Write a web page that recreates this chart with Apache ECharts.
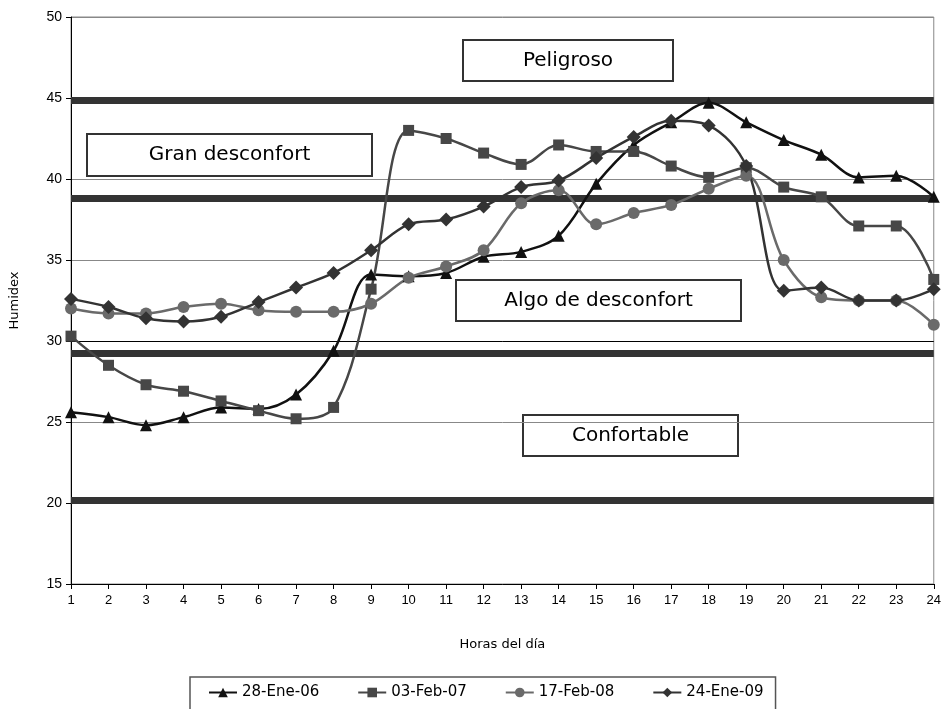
<!DOCTYPE html>
<html>
<head>
<meta charset="utf-8">
<script src="https://cdn.jsdelivr.net/npm/echarts@6/dist/echarts.min.js"></script>
<style>html,body{margin:0;padding:0;background:#fff;}#c{width:944px;height:709px;}</style>
</head>
<body>
<div id="c"></div>
<script>
var hours = ['1','2','3','4','5','6','7','8','9','10','11','12','13','14','15','16','17','18','19','20','21','22','23','24'];
var s2006 = [25.6,25.3,24.8,25.3,25.9,25.8,26.7,29.4,34.1,34.0,34.2,35.2,35.5,36.5,39.7,42.1,43.5,44.7,43.5,42.4,41.5,40.1,40.2,38.9];
var s2007 = [30.3,28.5,27.3,26.9,26.3,25.7,25.2,25.9,33.2,43.0,42.5,41.6,40.9,42.1,41.7,41.7,40.8,40.1,40.7,39.5,38.9,37.1,37.1,33.8];
var s2008 = [32.0,31.7,31.7,32.1,32.3,31.9,31.8,31.8,32.3,33.9,34.6,35.6,38.5,39.3,37.2,37.9,38.4,39.4,40.2,35.0,32.7,32.5,32.5,31.0];
var s2009 = [32.6,32.1,31.4,31.2,31.5,32.4,33.3,34.2,35.6,37.2,37.5,38.3,39.5,39.9,41.3,42.6,43.6,43.3,40.8,33.1,33.3,32.5,32.5,33.2];
var seriesNames = ['28-Ene-06','03-Feb-07','17-Feb-08','24-Ene-09'];
var thresholds = [44.85, 38.8, 29.25, 20.15];
var zoneLabels = ['Peligroso','Gran desconfort','Algo de desconfort','Confortable'];

var FONT = 'DejaVu Sans';
var chart = echarts.init(document.getElementById('c'));

function mkSeries(name, data, symbol, color, size) {
  return {
    name: name, type: 'line', data: data, smooth: 0.35,
    symbol: symbol, symbolSize: size, z: 5,
    lineStyle: { color: color, width: 2.5 },
    itemStyle: { color: color },
    emphasis: { disabled: true }
  };
}

function box(x, y, w, h, text) {
  return {
    type: 'group', left: x, top: y, z: 10,
    children: [
      { type: 'rect', shape: { x: 0, y: 0, width: w, height: h },
        style: { fill: '#fff', stroke: '#333', lineWidth: 2 } },
      { type: 'text', x: w / 2, y: h / 2,
        style: { text: text, font: '20px "' + FONT + '"', fill: '#000', align: 'center', verticalAlign: 'middle' } }
    ]
  };
}

var bandLines = thresholds.map(function (v) { return { yAxis: v }; });
bandLines.push({ yAxis: 30, lineStyle: { color: '#000', width: 1, type: 'solid' } });

chart.setOption({
  animation: false,
  backgroundColor: '#fff',
  grid: { left: 67, right: 10, top: 17, bottom: 125, show: true, borderColor: '#888', borderWidth: 1, containLabel: false },
  xAxis: {
    type: 'category', data: hours, boundaryGap: false,
    name: 'Horas del día', nameLocation: 'middle', nameGap: 54,
    nameTextStyle: { fontFamily: FONT, fontSize: 13, color: '#000' },
    axisLine: { lineStyle: { color: '#000', width: 1 } },
    axisTick: { show: true, length: 5, lineStyle: { color: '#000' }, alignWithLabel: true },
    axisLabel: { fontFamily: 'Liberation Sans', fontSize: 13, color: '#000', margin: 10, interval: 0 },
    splitLine: { show: false }
  },
  yAxis: {
    type: 'value', min: 15, max: 50, interval: 5,
    name: 'Humidex', nameLocation: 'middle', nameGap: 50, nameRotate: 90,
    nameTextStyle: { fontFamily: FONT, fontSize: 13, color: '#000' },
    axisLine: { show: true, lineStyle: { color: '#000', width: 1 } },
    axisTick: { show: true, length: 5, lineStyle: { color: '#000' } },
    axisLabel: { fontFamily: 'Liberation Sans', fontSize: 14, color: '#000', margin: 9 },
    splitLine: { show: true, lineStyle: { color: '#888', width: 1 } }
  },
  legend: {
    data: seriesNames, left: 190, top: 677,
    orient: 'horizontal', itemWidth: 28, itemHeight: 12, itemGap: 38,
    borderColor: '#555', borderWidth: 1.5, padding: [8, 12, 10, 18],
    textStyle: { fontFamily: FONT, fontSize: 15, color: '#000' },
    selectedMode: false
  },
  series: [
    mkSeries(seriesNames[0], s2006, 'triangle', '#111', 12),
    mkSeries(seriesNames[1], s2007, 'rect', '#474747', 11),
    mkSeries(seriesNames[2], s2008, 'circle', '#6a6a6a', 12),
    mkSeries(seriesNames[3], s2009, 'diamond', '#333', 14),
    {
      name: 'bands', type: 'line', data: [], z: 2, silent: true,
      markLine: {
        silent: true, symbol: 'none', label: { show: false },
        lineStyle: { color: '#333', width: 7, type: 'solid' },
        data: bandLines
      }
    }
  ],
  graphic: [
    box(462, 39, 210, 41, zoneLabels[0]),
    box(86, 133, 285, 42, zoneLabels[1]),
    box(455, 279, 285, 41, zoneLabels[2]),
    box(522, 414, 215, 41, zoneLabels[3])
  ]
});
</script>
</body>
</html>
